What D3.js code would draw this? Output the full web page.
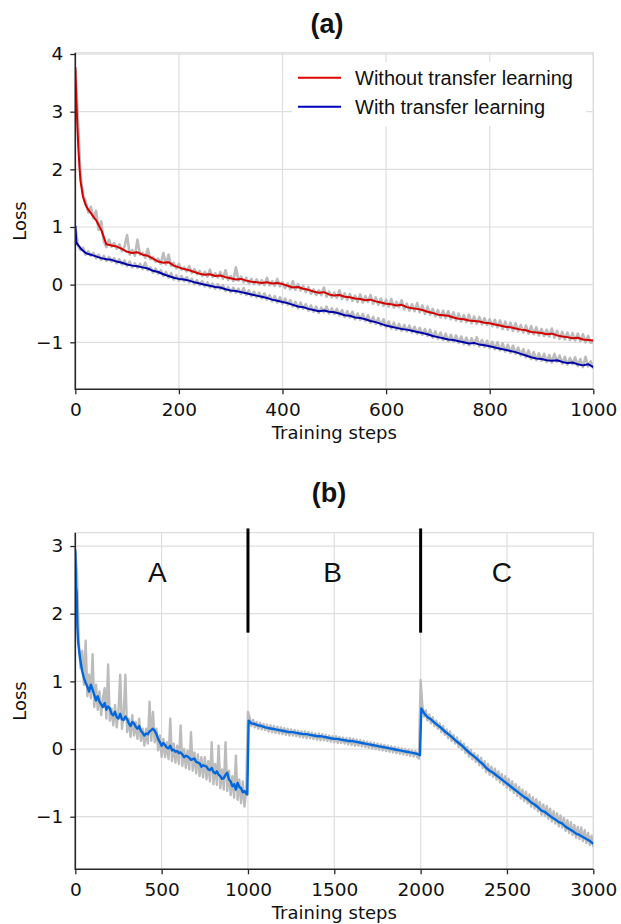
<!DOCTYPE html>
<html>
<head>
<meta charset="utf-8">
<script src="https://cdnjs.cloudflare.com/ajax/libs/d3/7.8.5/d3.min.js"></script>
<style>
    body { margin: 0; background: #fff; }
</style>
</head>
<body>
<script>
    // ---- panel (a): 0..1000 steps ----
    var stepsA = [0, 2, 4, 6, 8, 10, 15, 20, 25, 30].concat(d3.range(40, 1001, 10));
    var rawStepsA = d3.range(0, 1001, 5);

    var noTransfer = [3.77, 3.2, 2.75, 2.35, 2.05, 1.8, 1.52, 1.38, 1.3, 1.24,
        1.12, 0.95, 0.70, 0.68, 0.66, 0.62,
        0.57, 0.55, 0.56, 0.52, 0.50, 0.45, 0.40, 0.38, 0.39, 0.33,
        0.30, 0.27, 0.25, 0.22, 0.19, 0.17, 0.18, 0.15, 0.16, 0.13,
        0.11, 0.09, 0.10, 0.07, 0.05, 0.04, 0.03, 0.04, 0.02, 0.03,
        0.01, -0.02, -0.05, -0.04, -0.07, -0.09, -0.12, -0.14, -0.13, -0.17,
        -0.19, -0.18, -0.21, -0.22, -0.24, -0.25, -0.27, -0.26, -0.29, -0.31,
        -0.33, -0.34, -0.36, -0.35, -0.39, -0.41, -0.42, -0.44, -0.47, -0.49,
        -0.52, -0.53, -0.54, -0.57, -0.59, -0.60, -0.62, -0.63, -0.64, -0.66,
        -0.67, -0.69, -0.71, -0.73, -0.74, -0.76, -0.78, -0.79, -0.82, -0.83,
        -0.84, -0.86, -0.85, -0.88, -0.90, -0.91, -0.93, -0.92, -0.95, -0.96,
        -0.97];

    var withTransfer = [1.02, 0.74, 0.70, 0.68, 0.66, 0.63, 0.59, 0.55, 0.53, 0.52,
        0.49, 0.46, 0.44, 0.43, 0.40, 0.38,
        0.35, 0.33, 0.32, 0.30, 0.28, 0.24, 0.22, 0.18, 0.15, 0.12,
        0.10, 0.09, 0.07, 0.04, 0.02, 0.00, -0.02, -0.04, -0.05, -0.08,
        -0.10, -0.11, -0.13, -0.15, -0.17, -0.19, -0.21, -0.23, -0.26, -0.28,
        -0.30, -0.32, -0.35, -0.38, -0.39, -0.42, -0.44, -0.46, -0.45, -0.47,
        -0.48, -0.50, -0.53, -0.54, -0.57, -0.58, -0.60, -0.63, -0.65, -0.68,
        -0.71, -0.73, -0.75, -0.77, -0.78, -0.80, -0.82, -0.84, -0.86, -0.89,
        -0.91, -0.93, -0.95, -0.96, -0.98, -1.00, -1.02, -1.01, -1.04, -1.05,
        -1.07, -1.09, -1.11, -1.13, -1.15, -1.17, -1.20, -1.23, -1.26, -1.28,
        -1.29, -1.31, -1.32, -1.31, -1.34, -1.36, -1.35, -1.38, -1.40, -1.38,
        -1.43];

    // raw (unsmoothed) loss, every 5 steps
    var noTransferRaw = [
        3.77, 2.9, 1.9, 1.55, 1.45, 1.25, 1.35, 1.15, 1.28, 0.95,
        1.1, 0.75, 0.65, 0.78, 0.66, 0.72, 0.62, 0.7, 0.58, 0.66,
        0.86, 0.52, 0.6, 0.5, 0.78, 0.52, 0.55, 0.47, 0.62, 0.44,
        0.48, 0.4, 0.45, 0.36, 0.55, 0.35, 0.52, 0.33, 0.38, 0.28,
        0.36, 0.26, 0.3, 0.23, 0.32, 0.2, 0.27, 0.18, 0.24, 0.15,
        0.22, 0.14, 0.26, 0.13, 0.2, 0.12, 0.22, 0.1, 0.25, 0.08,
        0.15, 0.06, 0.3, 0.07, 0.14, 0.04, 0.12, 0.02, 0.1, 0.01,
        0.09, 0.0, 0.08, -0.01, 0.12, -0.01, 0.06, -0.02, 0.1, -0.03,
        0.04, -0.06, 0.02, -0.08, 0.06, -0.09, 0.01, -0.1, -0.02, -0.13,
        -0.04, -0.16, -0.08, -0.18, -0.1, -0.18, -0.05, -0.21, -0.12, -0.22,
        -0.14, -0.23, -0.1, -0.25, -0.15, -0.26, -0.16, -0.28, -0.19, -0.3,
        -0.17, -0.31, -0.2, -0.3, -0.18, -0.33, -0.22, -0.35, -0.24, -0.37,
        -0.26, -0.38, -0.25, -0.4, -0.3, -0.39, -0.27, -0.43, -0.33, -0.45,
        -0.34, -0.46, -0.32, -0.48, -0.36, -0.51, -0.38, -0.52, -0.42, -0.55,
        -0.44, -0.57, -0.45, -0.58, -0.46, -0.6, -0.48, -0.62, -0.5, -0.64,
        -0.53, -0.65, -0.52, -0.67, -0.55, -0.68, -0.56, -0.69, -0.58, -0.7,
        -0.6, -0.72, -0.61, -0.74, -0.62, -0.77, -0.64, -0.78, -0.66, -0.8,
        -0.67, -0.81, -0.7, -0.83, -0.71, -0.85, -0.72, -0.86, -0.74, -0.88,
        -0.77, -0.89, -0.78, -0.9, -0.76, -0.92, -0.8, -0.94, -0.82, -0.95,
        -0.83, -0.96, -0.84, -0.97, -0.85, -0.98, -0.86, -1.0, -0.89, -1.01,
        -0.99];

    var withTransferRaw = [
        1.02, 0.68, 0.6, 0.64, 0.52, 0.58, 0.5, 0.55, 0.46, 0.52,
        0.43, 0.5, 0.41, 0.48, 0.4, 0.46, 0.37, 0.44, 0.35, 0.42,
        0.32, 0.4, 0.3, 0.37, 0.29, 0.36, 0.27, 0.38, 0.25, 0.3,
        0.21, 0.28, 0.19, 0.25, 0.15, 0.22, 0.12, 0.2, 0.09, 0.16,
        0.07, 0.15, 0.06, 0.13, 0.04, 0.1, 0.01, 0.08, -0.01, 0.06,
        -0.03, 0.04, -0.05, 0.02, -0.07, 0.01, -0.08, -0.01, -0.11, -0.04,
        -0.13, -0.05, -0.14, -0.07, -0.16, -0.06, -0.18, -0.1, -0.2, -0.12,
        -0.22, -0.14, -0.24, -0.15, -0.26, -0.18, -0.29, -0.2, -0.31, -0.22,
        -0.33, -0.24, -0.35, -0.27, -0.38, -0.3, -0.41, -0.31, -0.42, -0.34,
        -0.45, -0.36, -0.47, -0.38, -0.49, -0.4, -0.48, -0.38, -0.5, -0.41,
        -0.51, -0.42, -0.53, -0.44, -0.56, -0.46, -0.57, -0.47, -0.6, -0.5,
        -0.61, -0.51, -0.63, -0.53, -0.66, -0.56, -0.68, -0.58, -0.71, -0.6,
        -0.74, -0.64, -0.76, -0.66, -0.78, -0.68, -0.8, -0.7, -0.81, -0.71,
        -0.83, -0.73, -0.85, -0.75, -0.87, -0.77, -0.89, -0.78, -0.92, -0.81,
        -0.94, -0.83, -0.96, -0.85, -0.98, -0.87, -0.99, -0.88, -1.01, -0.9,
        -1.03, -0.92, -1.05, -0.93, -1.04, -0.91, -1.07, -0.96, -1.08, -0.97,
        -1.1, -0.99, -1.12, -1.0, -1.14, -1.02, -1.16, -1.04, -1.18, -1.06,
        -1.2, -1.09, -1.23, -1.12, -1.26, -1.14, -1.29, -1.17, -1.31, -1.19,
        -1.32, -1.2, -1.34, -1.22, -1.35, -1.2, -1.34, -1.23, -1.37, -1.25,
        -1.39, -1.27, -1.38, -1.26, -1.41, -1.29, -1.43, -1.25, -1.42, -1.33,
        -1.46];

    var legendLabels = ["Without transfer learning", "With transfer learning"];

    // ---- panel (b): 0..3000 steps, tasks A, B, C ----
    var stepsB = [0, 4, 8, 12, 16, 20, 30, 40, 50].concat(
        d3.range(60, 1000, 10), [996, 1004],
        d3.range(1020, 2000, 20), [1996, 2004],
        d3.range(2020, 3001, 20));
    var rawStepsB = d3.range(0, 3001, 10);

    var lossB = [2.95, 2.4, 2.3, 1.8, 1.6, 1.5, 1.3, 1.15, 1.05,
        // task A
        0.98, 0.92, 0.85, 0.95, 0.88, 0.80, 0.72, 0.78, 0.70, 0.66,
        0.62, 0.68, 0.58, 0.63, 0.60, 0.52, 0.50, 0.55, 0.47, 0.45,
        0.52, 0.44, 0.43, 0.48, 0.44, 0.38, 0.34, 0.40, 0.38, 0.33,
        0.30, 0.34, 0.27, 0.24, 0.20, 0.23, 0.22, 0.26, 0.28, 0.30,
        0.27, 0.22, 0.15, 0.10, 0.05, 0.09, 0.06, 0.02, 0.01, 0.05,
        -0.02, -0.01, -0.04, -0.03, -0.06, -0.05, -0.08, -0.12, -0.10, -0.11,
        -0.13, -0.16, -0.15, -0.14, -0.19, -0.20, -0.21, -0.26, -0.24, -0.25,
        -0.26, -0.30, -0.31, -0.28, -0.34, -0.36, -0.33, -0.38, -0.40, -0.44,
        -0.43, -0.38, -0.35, -0.45, -0.48, -0.55, -0.52, -0.60, -0.50, -0.56,
        -0.58, -0.64, -0.62, -0.66,
        -0.67, 0.42,
        // task B
        0.38, 0.37, 0.35, 0.34, 0.32, 0.31, 0.30, 0.29, 0.28, 0.27,
        0.26, 0.25, 0.25, 0.24, 0.23, 0.22, 0.22, 0.21, 0.20, 0.19,
        0.19, 0.18, 0.17, 0.16, 0.15, 0.15, 0.14, 0.13, 0.12, 0.12,
        0.11, 0.10, 0.09, 0.08, 0.07, 0.06, 0.05, 0.04, 0.03, 0.02,
        0.01, 0.00, -0.01, -0.02, -0.03, -0.04, -0.05, -0.06, -0.07,
        -0.09, 0.60,
        // task C
        0.53, 0.47, 0.44, 0.39, 0.35, 0.31, 0.26, 0.22, 0.18, 0.13,
        0.09, 0.05, 0.00, -0.05, -0.09, -0.13, -0.18, -0.22, -0.28, -0.32,
        -0.35, -0.39, -0.43, -0.47, -0.51, -0.55, -0.59, -0.63, -0.67, -0.71,
        -0.74, -0.79, -0.82, -0.86, -0.91, -0.93, -0.97, -1.01, -1.04, -1.08,
        -1.10, -1.15, -1.18, -1.21, -1.25, -1.27, -1.30, -1.33, -1.36, -1.40];

    var lossBRaw = [
        // task A
        2.9, 2.6, 1.6, 1.2, 1.45, 0.95, 1.6, 0.78, 1.1, 0.75,
        1.4, 0.62, 0.95, 0.58, 0.85, 0.5, 0.75, 0.9, 0.45, 1.25,
        0.42, 0.6, 0.35, 0.65, 0.32, 0.55, 1.1, 0.3, 0.5, 1.1,
        0.25, 0.45, 0.18, 0.5, 0.2, 0.4, 0.15, 0.45, 0.12, 0.3,
        0.05, 0.3, 0.08, 0.7, 0.12, 0.55, 0.1, 0.3, -0.02, 0.2,
        -0.12, 0.15, -0.12, 0.1, -0.15, 0.45, -0.18, 0.08, -0.2, 0.05,
        -0.22, 0.35, -0.25, 0.0, -0.28, -0.02, -0.3, 0.25, -0.32, -0.05,
        -0.36, -0.08, -0.4, -0.12, -0.42, -0.12, -0.45, -0.18, -0.48, 0.1,
        -0.52, -0.22, -0.53, 0.05, -0.58, -0.3, -0.6, 0.1, -0.62, -0.32,
        -0.68, -0.4, -0.72, -0.1, -0.75, -0.45, -0.8, -0.48, -0.85, -0.6,
        // task B
        0.55, 0.46, 0.34, 0.43, 0.32, 0.40, 0.30, 0.39, 0.29, 0.37,
        0.28, 0.36, 0.26, 0.35, 0.25, 0.34, 0.24, 0.33, 0.23, 0.32,
        0.22, 0.31, 0.21, 0.30, 0.20, 0.29, 0.20, 0.28, 0.19, 0.27,
        0.18, 0.26, 0.17, 0.26, 0.16, 0.25, 0.16, 0.24, 0.15, 0.23,
        0.14, 0.23, 0.13, 0.22, 0.13, 0.21, 0.12, 0.20, 0.11, 0.19,
        0.10, 0.19, 0.09, 0.18, 0.09, 0.17, 0.08, 0.16, 0.07, 0.16,
        0.06, 0.15, 0.05, 0.14, 0.05, 0.13, 0.04, 0.12, 0.03, 0.11,
        0.02, 0.10, 0.01, 0.09, 0.00, 0.08, -0.01, 0.07, -0.02, 0.06,
        -0.03, 0.05, -0.04, 0.04, -0.05, 0.03, -0.06, 0.02, -0.07, 0.01,
        -0.08, 0.00, -0.09, -0.01, -0.10, -0.02, -0.11, -0.03, -0.12, -0.14,
        // task C
        1.02, 0.64, 0.48, 0.57, 0.42, 0.51, 0.38, 0.47, 0.34, 0.42,
        0.30, 0.38, 0.25, 0.34, 0.21, 0.29, 0.16, 0.26, 0.12, 0.21,
        0.08, 0.17, 0.03, 0.12, -0.01, 0.08, -0.06, 0.03, -0.11, -0.01,
        -0.15, -0.06, -0.19, -0.09, -0.24, -0.13, -0.28, -0.18, -0.34, -0.22,
        -0.38, -0.26, -0.41, -0.29, -0.45, -0.33, -0.49, -0.37, -0.53, -0.40,
        -0.57, -0.44, -0.61, -0.48, -0.65, -0.52, -0.69, -0.56, -0.73, -0.60,
        -0.77, -0.63, -0.80, -0.67, -0.85, -0.71, -0.88, -0.74, -0.92, -0.78,
        -0.97, -0.82, -0.99, -0.84, -1.03, -0.88, -1.07, -0.92, -1.10, -0.95,
        -1.14, -0.98, -1.16, -1.02, -1.21, -1.05, -1.24, -1.08, -1.27, -1.12,
        -1.31, -1.15, -1.33, -1.16, -1.36, -1.20, -1.39, -1.24, -1.42, -1.28,
        -1.45];

    var taskBounds = [1000, 2000];
    var taskBoundSpan = [1.72, 3.26];
    var taskNames = ["A", "B", "C"];
    var taskLabelPos = [[475, 2.47], [1490, 2.47], [2470, 2.47]];

    var xTicksA = [0, 200, 400, 600, 800, 1000];
    var yTicksA = [-1, 0, 1, 2, 3, 4];
    var xTicksB = [0, 500, 1000, 1500, 2000, 2500, 3000];
    var yTicksB = [-1, 0, 1, 2, 3];

    var left = 75.3, right = 593.3;
    var tickFont = "'DejaVu Sans', sans-serif";
    var svg = d3.select("body")
        .append("svg")
        .attr("width", 621)
        .attr("height", 924);

    function drawPanel(o) {
        var x = d3.scaleLinear().domain(o.xDomain).range([left, right]);
        var y = d3.scaleLinear().domain(o.yDomain).range([o.bottom, o.top]);
        var g = svg.append("g");

        g.append("clipPath")
            .attr("id", o.id + "clip")
            .append("rect")
            .attr("x", left)
            .attr("y", o.top)
            .attr("width", right - left)
            .attr("height", o.bottom - o.top);

        // grid
        g.append("g").selectAll("line")
            .data(o.xTicks)
            .enter()
            .append("line")
            .attr("x1", function(d){ return x(d); })
            .attr("x2", function(d){ return x(d); })
            .attr("y1", o.top)
            .attr("y2", o.bottom)
            .attr("stroke", "#dedede")
            .attr("stroke-width", 1.2);
        g.append("g").selectAll("line")
            .data(o.yTicks)
            .enter()
            .append("line")
            .attr("x1", left)
            .attr("x2", right)
            .attr("y1", function(d){ return y(d); })
            .attr("y2", function(d){ return y(d); })
            .attr("stroke", "#dedede")
            .attr("stroke-width", 1.2);

        // light top / right frame
        g.append("path")
            .attr("d", "M" + left + "," + o.top + "H" + right + "V" + o.bottom)
            .attr("fill", "none")
            .attr("stroke", "#dedede")
            .attr("stroke-width", 1.2);

        var plot = g.append("g").attr("clip-path", "url(#" + o.id + "clip)");

        // axes
        var xa = g.append("g")
            .attr("transform", "translate(0," + o.bottom + ")")
            .call(d3.axisBottom(x).tickValues(o.xTicks).tickSize(5).tickPadding(8.6).tickFormat(d3.format("d")));
        var ya = g.append("g")
            .attr("transform", "translate(" + left + ",0)")
            .call(d3.axisLeft(y).tickValues(o.yTicks).tickSize(5).tickPadding(7).tickFormat(d3.format("d")));
        [xa, ya].forEach(function(a){
            a.select(".domain").remove();
            a.selectAll("line").attr("stroke", "#262626").attr("stroke-width", 1.3);
            a.selectAll("text")
                .attr("fill", "#111")
                .style("font-family", tickFont)
                .style("font-size", "18.5px");
        });

        // dark left / bottom spines
        g.append("path")
            .attr("d", "M" + left + "," + o.top + "V" + o.bottom + "H" + right)
            .attr("fill", "none")
            .attr("stroke", "#262626")
            .attr("stroke-width", 1.6);

        g.append("text")
            .attr("x", (left + right) / 2)
            .attr("y", o.bottom + 50)
            .attr("text-anchor", "middle")
            .style("font-family", tickFont)
            .style("font-size", "18px")
            .attr("fill", "#111")
            .text("Training steps");

        g.append("text")
            .attr("transform", "translate(26," + ((o.top + o.bottom) / 2) + ") rotate(-90)")
            .attr("text-anchor", "middle")
            .style("font-family", tickFont)
            .style("font-size", "18px")
            .attr("fill", "#111")
            .text("Loss");

        g.append("text")
            .attr("x", o.titleX)
            .attr("y", o.titleY)
            .attr("text-anchor", "middle")
            .style("font-family", "'Liberation Sans', Arial, sans-serif")
            .style("font-weight", "bold")
            .style("font-size", "27px")
            .attr("fill", "#111")
            .text(o.title);

        return {x: x, y: y, g: g, plot: plot};
    }

    function addLine(p, steps, vals, color, width) {
        var line = d3.line()
            .x(function(d){ return p.x(d[0]); })
            .y(function(d){ return p.y(d[1]); });
        p.plot.append("path")
            .datum(d3.zip(steps, vals))
            .attr("fill", "none")
            .attr("stroke", color)
            .attr("stroke-width", width)
            .attr("stroke-linejoin", "round")
            .attr("d", line);
    }

    // panel (a)
    var pa = drawPanel({
        id: "a", top: 52.7, bottom: 389.3,
        xDomain: [0, 1000], yDomain: [-1.815, 4.023],
        xTicks: xTicksA, yTicks: yTicksA,
        title: "(a)", titleX: 327, titleY: 33.3
    });
    addLine(pa, rawStepsA, noTransferRaw, "#bcbcbc", 2.6);
    addLine(pa, rawStepsA, withTransferRaw, "#bcbcbc", 2.6);
    addLine(pa, stepsA, noTransfer, "#d40000", 2);
    addLine(pa, stepsA, withTransfer, "#0000a8", 2);

    var legend = pa.g.append("g");
    legend.append("rect")
        .attr("x", 292)
        .attr("y", 62)
        .attr("width", 294)
        .attr("height", 64)
        .attr("fill", "#fff");
    var legendColors = ["#e00000", "#0000c0"];
    legendLabels.forEach(function(name, i){
        var ly = 77.7 + i * 29;
        legend.append("line")
            .attr("x1", 298)
            .attr("x2", 341)
            .attr("y1", ly)
            .attr("y2", ly)
            .attr("stroke", legendColors[i])
            .attr("stroke-width", 2);
        legend.append("text")
            .attr("x", 355)
            .attr("y", ly + 7)
            .style("font-family", "'Liberation Sans', Arial, sans-serif")
            .style("font-size", "20px")
            .attr("fill", "#111")
            .text(name);
    });

    // panel (b)
    var pb = drawPanel({
        id: "b", top: 532.7, bottom: 869.3,
        xDomain: [0, 3000], yDomain: [-1.777, 3.197],
        xTicks: xTicksB, yTicks: yTicksB,
        title: "(b)", titleX: 329, titleY: 502.3
    });
    addLine(pb, rawStepsB, lossBRaw, "#bcbcbc", 2.4);
    addLine(pb, stepsB, lossB, "#0068dc", 2.4);

    pb.g.append("g").selectAll("line")
        .data(taskBounds)
        .enter()
        .append("line")
        .attr("x1", function(d){ return pb.x(d); })
        .attr("x2", function(d){ return pb.x(d); })
        .attr("y1", pb.y(taskBoundSpan[0]))
        .attr("y2", pb.y(taskBoundSpan[1]))
        .attr("stroke", "#000")
        .attr("stroke-width", 3);

    pb.g.append("g").selectAll("text")
        .data(taskNames)
        .enter()
        .append("text")
        .attr("x", function(d, i){ return pb.x(taskLabelPos[i][0]); })
        .attr("y", function(d, i){ return pb.y(taskLabelPos[i][1]); })
        .attr("text-anchor", "middle")
        .style("font-family", "'Liberation Sans', Arial, sans-serif")
        .style("font-size", "28px")
        .attr("fill", "#111")
        .text(function(d){ return d; });
</script>
</body>
</html>
